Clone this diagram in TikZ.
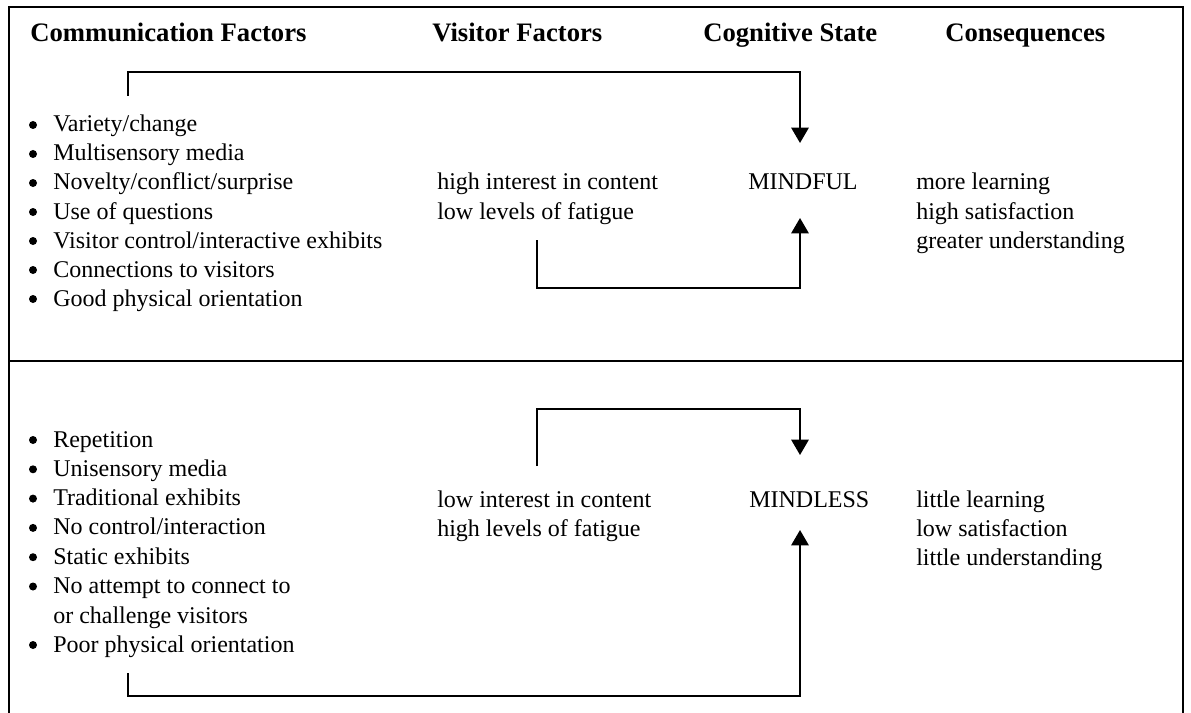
\documentclass[tikz,border=0pt]{standalone}
\usepackage{fontspec}
\setmainfont{Liberation Serif}
\usetikzlibrary{arrows.meta}
\begin{document}
\begin{tikzpicture}[x=0.75pt,y=-0.75pt,
  txt/.style={anchor=base west,inner sep=0pt,font=\fontsize{18}{21.6}\selectfont},
  head/.style={txt,font=\fontsize{20}{24}\selectfont\bfseries},
  bul/.style={circle,fill=black,inner sep=0pt,minimum size=6pt},
  frame/.style={line width=1.5pt},
  link/.style={line width=1.5pt,-{Triangle[width=13pt,length=11.5pt]}},
]
\useasboundingbox (0,0) rectangle (1191,713);
% outer frame and panel divider
\draw[frame] (9,713) -- (9,7) -- (1183,7) -- (1183,713);
\draw[frame] (9,361) -- (1183,361);

% column headings
\node[head] (hcomm) at (30,42) {Communication Factors};
\node[head] (hvis) at (432,42) {Visitor Factors};
\node[head] (hcog) at (703,42) {Cognitive State};
\node[head] (hcons) at (945,42) {Consequences};

% upper panel: communication factors
\foreach \t [count=\i] in {Variety/change, Multisensory media, Novelty/conflict/surprise, Use of questions, Visitor control/interactive exhibits, Connections to visitors, Good physical orientation}{
  \node[bul] (ub\i) at (33,{125+29*(\i-1)}) {};
  \node[txt] (ut\i) at (53,{132+29*(\i-1)}) {\t};
}
% upper panel: visitor factors, state, consequences
\node[txt] (uv1) at (437,190) {high interest in content};
\node[txt] (uv2) at (437,219) {low levels of fatigue};
\node[txt] (mindful) at (748,190) {MINDFUL};
\node[txt] (uc1) at (916,190) {more learning};
\node[txt] (uc2) at (916,219) {high satisfaction};
\node[txt] (uc3) at (916,248) {greater understanding};

% lower panel: communication factors
\foreach \t [count=\i] in {Repetition, Unisensory media, Traditional exhibits, No control/interaction, Static exhibits, No attempt to connect to}{
  \node[bul] (lb\i) at (33,{440+29.3*(\i-1)}) {};
  \node[txt] (lt\i) at (53,{447+29.3*(\i-1)}) {\t};
}
\node[txt] (lt7) at (53,623) {or challenge visitors};
\node[bul] (lb8) at (33,645) {};
\node[txt] (lt8) at (53,652) {Poor physical orientation};

% lower panel: visitor factors, state, consequences
\node[txt] (lv1) at (437,507) {low interest in content};
\node[txt] (lv2) at (437,536) {high levels of fatigue};
\node[txt] (mindless) at (749,507) {MINDLESS};
\node[txt] (lc1) at (916,507) {little learning};
\node[txt] (lc2) at (916,536) {low satisfaction};
\node[txt] (lc3) at (916,565) {little understanding};

% connector end points
\coordinate (ucomm) at (128,96);
\coordinate (uvis) at (537,240);
\coordinate (mfTop) at (800,143);
\coordinate (mfBot) at (800,218);
\coordinate (lvis) at (537,466);
\coordinate (lcomm) at (128,673);
\coordinate (mlTop) at (800,455);
\coordinate (mlBot) at (800,530);

% connectors
\draw[link] (ucomm) -- (128,72) -- (800,72) -- (mfTop);
\draw[link] (uvis) -- (537,288) -- (800,288) -- (mfBot);
\draw[link] (lvis) -- (537,409) -- (800,409) -- (mlTop);
\draw[link] (lcomm) -- (128,696) -- (800,696) -- (mlBot);
\end{tikzpicture}
\end{document}
